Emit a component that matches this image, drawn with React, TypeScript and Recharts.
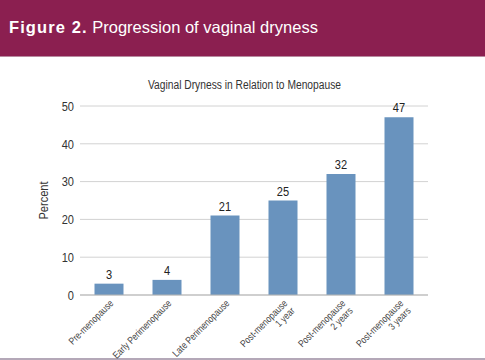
import React from "react";
import { BarChart, Bar, XAxis, YAxis, CartesianGrid, LabelList, Label } from "recharts";

const categories: string[][] = [
  ["Pre-menopause"],
  ["Early Perimenopause"],
  ["Late Perimenopause"],
  ["Post-menopause", "1 year"],
  ["Post-menopause", "2 years"],
  ["Post-menopause", "3 years"],
];
const percentValues: number[] = [3, 4, 21, 25, 32, 47];
const yTicks: number[] = [0, 10, 20, 30, 40, 50];

const chartTitle = "Vaginal Dryness in Relation to Menopause";
const figureLabel = "Figure 2.";
const figureTitle = "Progression of vaginal dryness";
const yLabel = "Percent";

const data = categories.map((lines, i) => ({
  name: lines.join("\n"),
  value: percentValues[i],
}));

const SANS = "'Liberation Sans', Arial, sans-serif";
const SX = 0.82;

const XTick = (props: any) => {
  const { x, y, payload } = props;
  const lines: string[] = String(payload.value).split("\n");
  return (
    <g transform={`translate(${x + 5},${y + 1}) rotate(-45)`}>
      <text
        transform={`scale(${SX},1)`}
        textAnchor="end"
        fontFamily={SANS}
        fontSize={10}
        fill="#444"
      >
        {lines.map((l, i) => (
          <tspan key={i} x={0} dy={i === 0 ? 0 : 10.5}>
            {l}
          </tspan>
        ))}
      </text>
    </g>
  );
};

const YTick = (props: any) => {
  const { x, y, payload } = props;
  return (
    <g transform={`translate(${x},${y})`}>
      <text
        transform={`scale(${SX},1)`}
        textAnchor="end"
        dy="0.36em"
        fontFamily={SANS}
        fontSize={13.5}
        fill="#333"
      >
        {payload.value}
      </text>
    </g>
  );
};

const ValueLabel = (props: any) => {
  const { x, y, width, value } = props;
  const cx = Number(x) + Number(width) / 2;
  const cy = Number(y) - 5;
  return (
    <g transform={`translate(${cx},${cy})`}>
      <text
        transform={`scale(${SX},1)`}
        textAnchor="middle"
        fontFamily={SANS}
        fontSize={13.5}
        fill="#222"
      >
        {value}
      </text>
    </g>
  );
};

export default function App() {
  return (
    <div style={{ position: "absolute", left: 0, top: 0, width: 485, height: 360, background: "#fff", overflow: "hidden" }}>
      <div style={{ position: "absolute", left: 0, top: 0, width: 485, height: 56, background: "#8B1F50" }} />
      <div style={{ position: "absolute", left: 0, top: 56, width: 485, height: 1, background: "#b88aa0" }} />
      <div
        style={{
          position: "absolute",
          left: 9,
          top: 17,
          color: "#fff",
          fontFamily: SANS,
          fontSize: 16.5,
          lineHeight: "20px",
          whiteSpace: "nowrap",
        }}
      >
        <span style={{ fontWeight: 900, letterSpacing: 1.1 }}>{figureLabel}</span>{" "}
        <span>{figureTitle}</span>
      </div>
      <div
        style={{
          position: "absolute",
          left: 0,
          top: 78,
          width: 489,
          textAlign: "center",
          fontFamily: SANS,
          fontSize: 12.5,
          color: "#333",
          lineHeight: "14px",
          transform: "scaleX(0.82)",
          transformOrigin: "244.5px 0",
          whiteSpace: "nowrap",
        }}
      >
        {chartTitle}
      </div>
      <div style={{ position: "absolute", left: 0, top: 358, width: 485, height: 2, background: "#b4a8b8" }} />
      <div style={{ position: "absolute", left: 0, top: 0 }}>
        <BarChart
          width={485}
          height={360}
          data={data}
          margin={{ top: 106, right: 57, left: 0, bottom: 0 }}
          barCategoryGap="25%"
        >
          <CartesianGrid vertical={false} stroke="#d2d2d2" />
          <XAxis
            dataKey="name"
            height={65}
            interval={0}
            tickLine={false}
            axisLine={{ stroke: "#b5b5b5" }}
            tick={<XTick />}
          />
          <YAxis
            width={80}
            domain={[0, 50]}
            ticks={yTicks}
            axisLine={false}
            tickLine={false}
            tickSize={6}
            tickMargin={0}
            tick={<YTick />}
          >
            <Label
              content={(p: any) => {
                const vb = p.viewBox || { x: 0, y: 106, height: 189 };
                const cx = 48;
                const cy = vb.y + vb.height / 2;
                return (
                  <g transform={`translate(${cx},${cy}) rotate(-90)`}>
                    <text
                      transform={`scale(${SX},1)`}
                      textAnchor="middle"
                      fontFamily={SANS}
                      fontSize={13.5}
                      fill="#333"
                    >
                      {yLabel}
                    </text>
                  </g>
                );
              }}
            />
          </YAxis>
          <Bar dataKey="value" fill="#6993BE" isAnimationActive={false}>
            <LabelList dataKey="value" content={<ValueLabel />} />
          </Bar>
        </BarChart>
      </div>
    </div>
  );
}
